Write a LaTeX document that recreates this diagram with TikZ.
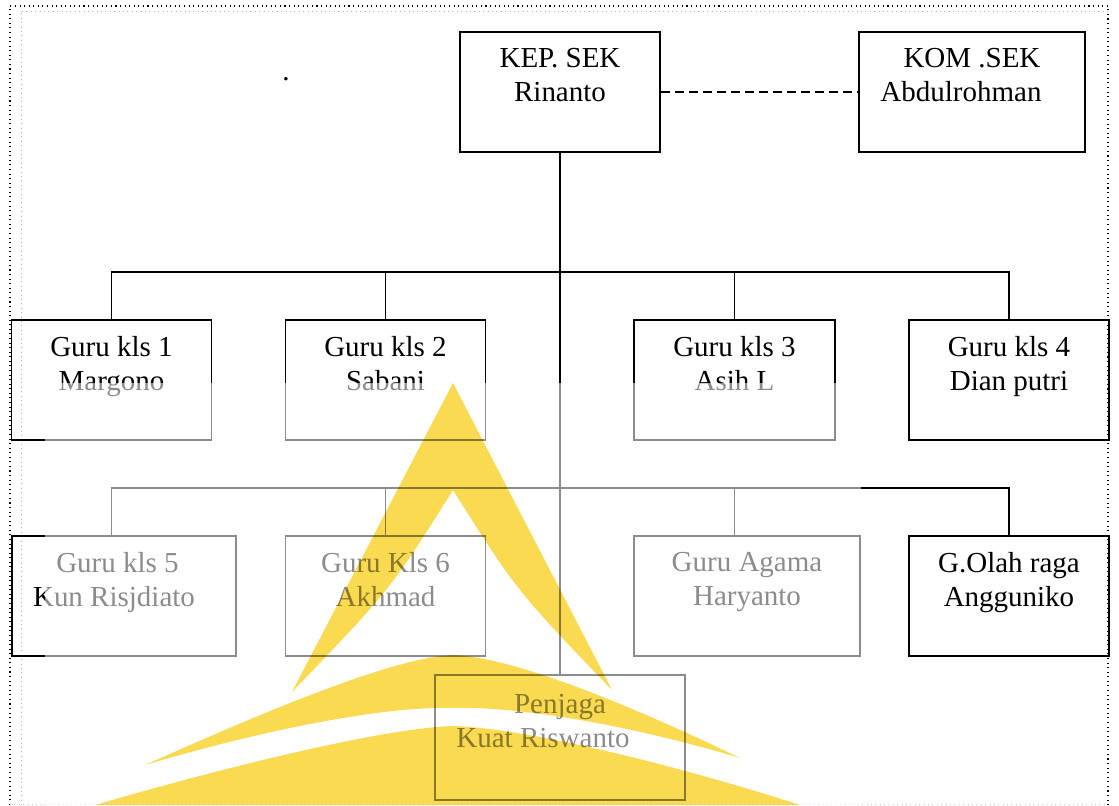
\documentclass[tikz,border=0pt]{standalone}
\usepackage{fontspec}
\setmainfont{Liberation Serif}
\definecolor{wmyellow}{RGB}{250,218,80}
\tikzset{
	unit/.style = {draw, line width = 0.75pt, align = center, inner sep = 0pt, minimum width = 4cm, minimum height = 2.4cm, font = \fontsize{16.5}{19.35}\selectfont},
	bus/.style = {line width = 0.75pt},
	wmark/.style = {fill = wmyellow, blend mode = multiply}
}
\begin{document}
\begin{tikzpicture} [x = 0.02cm, y = -0.02cm]
	\useasboundingbox (0,0) rectangle (1119,805);
	% page frame
	\draw [dotted, line width = 0.6pt] (10,805) -- (10,6) -- (1108,6) -- (1108,805);
	\draw [dotted, gray!60, line width = 0.5pt] (21,805) -- (21,11) -- (1108,11);
	\draw [dotted, gray!40, line width = 0.5pt] (10,804) -- (1108,804);
	% head
	\node [unit] (kep) at (560,92) {KEP. SEK\\Rinanto\\~};
	\node [unit, minimum width = 4.52cm] (kom) at (972,92) {KOM .SEK\\\mbox{Abdulrohman\hspace{0.44cm}}\\~};
	\node [inner sep = 0pt, font = \fontsize{16.5}{19.35}\selectfont] (dot) at (286,79) {.};
	\draw [bus, dash pattern = on 0.18cm off 0.1cm] (kep) -- (kom);
	% teachers
	\node [unit] (g1) at (111.5,380) {Guru kls 1\\Margono\\~};
	\node [unit] (g2) at (385.5,380) {Guru kls 2\\Sabani\\~};
	\node [unit, minimum width = 4.02cm] (g3) at (734.5,380) {Guru kls 3\\Asih L\\~};
	\node [unit] (g4) at (1009,380) {Guru kls 4\\Dian putri\\~};
	\node [unit, minimum width = 4.48cm] (g5) at (124,596) {\mbox{Guru kls 5\hspace{0.26cm}}\\\mbox{Kun Risjdiato\hspace{0.4cm}}\\~};
	\node [unit] (g6) at (385.5,596) {Guru Kls 6\\Akhmad\\~};
	\node [unit, minimum width = 4.52cm] (ga) at (747,596) {Guru Agama\\Haryanto\\~};
	\node [unit] (go) at (1009,596) {G.Olah raga\\Angguniko\\~};
	\node [unit, minimum width = 5cm, minimum height = 2.5cm] (pj) at (560,737.5) {Penjaga\\\mbox{Kuat Riswanto\hspace{0.68cm}}\\~};
	% lines
	\coordinate (b1) at (560,272);
	\coordinate (b2) at (560,488);
	\draw [bus] (kep) -- (pj);
	\draw [bus] (g1.north) |- (b1) -| (g4.north);
	\draw [bus] (g2.north) -- (g2.north |- b1);
	\draw [bus] (g3.north) -- (g3.north |- b1);
	\draw [bus] (g5.north -| g1.north) |- (b2) -| (go.north);
	\draw [bus] (g6.north) -- (g6.north |- b2);
	\draw [bus] (ga.north -| g3.north) -- (g3.north |- b2);
	% faded part and logo
	\fill [white, opacity = 0.55] (45,383) rectangle (861,805);
	\fill [wmark] (453,383) -- (292,692) .. controls (390,590) .. (453,490) .. controls (516,590) .. (612,690) -- cycle;
	\fill [wmark] (145,765) .. controls (290,700) and (400,657) .. (453,655) .. controls (510,657) and (620,700) .. (740,758) .. controls (620,722) and (510,706) .. (453,708) .. controls (400,706) and (290,722) .. cycle;
	\fill [wmark] (95,805) .. controls (250,760) and (390,728) .. (453,726) .. controls (520,728) and (660,760) .. (800,805) -- cycle;
\end{tikzpicture}
\end{document}
